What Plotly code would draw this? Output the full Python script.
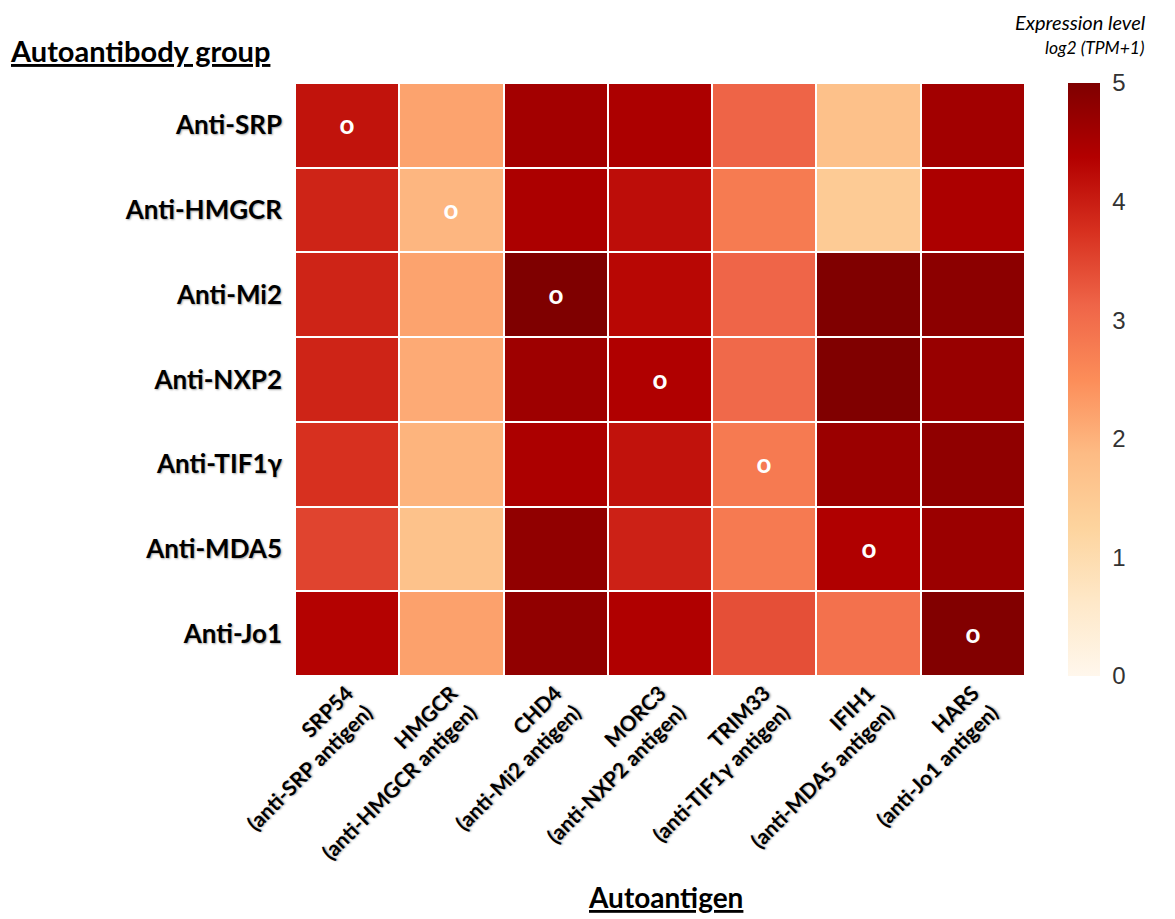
import plotly.graph_objects as go

# Autoantibody groups (rows) and their autoantigens (columns)
groups = ["Anti-SRP", "Anti-HMGCR", "Anti-Mi2", "Anti-NXP2", "Anti-TIF1γ", "Anti-MDA5", "Anti-Jo1"]
antigens = [
    "SRP54<br>(anti-SRP antigen)",
    "HMGCR<br>(anti-HMGCR antigen)",
    "CHD4<br>(anti-Mi2 antigen)",
    "MORC3<br>(anti-NXP2 antigen)",
    "TRIM33<br>(anti-TIF1γ antigen)",
    "IFIH1<br>(anti-MDA5 antigen)",
    "HARS<br>(anti-Jo1 antigen)",
]

# log2(TPM+1) expression, one list per autoantibody group
anti_srp   = [4.13, 2.20, 4.57, 4.46, 3.14, 1.72, 4.58]
anti_hmgcr = [3.91, 1.94, 4.46, 4.20, 2.78, 1.47, 4.46]
anti_mi2   = [3.91, 2.20, 5.00, 4.29, 3.12, 4.99, 4.84]
anti_nxp2  = [3.91, 2.10, 4.63, 4.41, 3.06, 4.99, 4.70]
anti_tif1g = [3.75, 1.97, 4.46, 4.14, 2.80, 4.66, 4.80]
anti_mda5  = [3.51, 1.70, 4.78, 3.94, 2.80, 4.41, 4.66]
anti_jo1   = [4.35, 2.23, 4.78, 4.41, 3.39, 2.94, 4.96]

z = [anti_srp, anti_hmgcr, anti_mi2, anti_nxp2, anti_tif1g, anti_mda5, anti_jo1]

# mark each group's own target antigen
marks = [["o" if i == j else "" for j in range(len(antigens))] for i in range(len(groups))]

shadow = "1px 1px 2px rgba(0,0,0,0.35)"

fig = go.Figure(
    go.Heatmap(
        z=z,
        x=antigens,
        y=groups,
        zmin=0,
        zmax=5,
        colorscale="OrRd",
        xgap=2,
        ygap=2,
        text=marks,
        texttemplate="%{text}",
        textfont=dict(family="Lato", size=26, color="white", weight="bold"),
        colorbar=dict(
            x=(1068 - 295) / 730,
            xanchor="left",
            xpad=0,
            y=0.5,
            yanchor="middle",
            ypad=0,
            len=1.0,
            thickness=32,
            outlinewidth=0,
            tickvals=[0, 1, 2, 3, 4, 5],
            ticks="outside",
            ticklen=8,
            tickcolor="rgba(0,0,0,0)",
            tickfont=dict(family="Liberation Sans", size=24, color="#333333"),
        ),
    )
)

fig.update_layout(
    width=1175,
    height=919,
    margin=dict(l=295, r=150, t=83, b=243),
    paper_bgcolor="white",
    plot_bgcolor="white",
    xaxis=dict(
        tickangle=-45,
        tickfont=dict(family="Lato", size=21, color="black", weight="bold", shadow=shadow),
        showgrid=False,
        zeroline=False,
        ticks="",
    ),
    yaxis=dict(
        autorange="reversed",
        tickfont=dict(family="Lato", size=26, color="black", weight="bold", shadow=shadow),
        showgrid=False,
        zeroline=False,
        ticks="",
        ticklabelstandoff=12,
    ),
    annotations=[
        dict(
            text="<u>Autoantibody group</u>",
            xref="paper", yref="paper",
            x=(8 - 295) / 730, y=1 + (83 - 50) / 593,
            xanchor="left", yanchor="middle",
            showarrow=False,
            font=dict(family="Lato", size=29, color="black", weight="bold"),
        ),
        dict(
            text="<u>Autoantigen</u>",
            xref="paper", yref="paper",
            x=(665 - 295) / 730, y=-(916 - 676) / 593,
            xanchor="center", yanchor="bottom",
            showarrow=False,
            font=dict(family="Lato", size=28, color="black", weight="bold"),
        ),
        dict(
            text="<i>Expression level</i>",
            xref="paper", yref="paper",
            x=(1148 - 295) / 730, y=1 + (83 - 22) / 593,
            xanchor="right", yanchor="middle",
            showarrow=False,
            font=dict(family="Lato", size=20, color="black"),
        ),
        dict(
            text="<i>log2 (TPM+1)</i>",
            xref="paper", yref="paper",
            x=(1147 - 295) / 730, y=1 + (83 - 48) / 593,
            xanchor="right", yanchor="middle",
            showarrow=False,
            font=dict(family="Lato", size=17.5, color="black"),
        ),
    ],
)

fig.write_html("out.html")
